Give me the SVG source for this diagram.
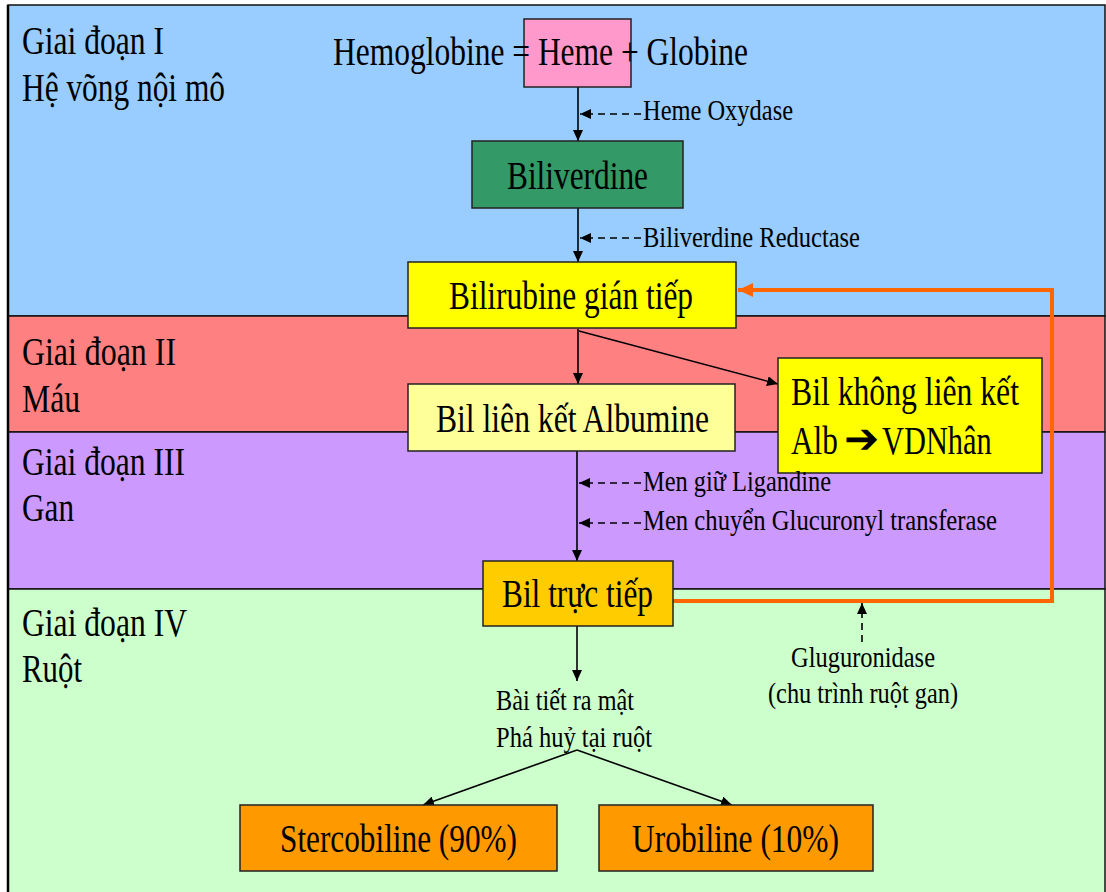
<svg xmlns="http://www.w3.org/2000/svg" width="1106" height="892" viewBox="0 0 1106 892">
<defs>
<style>
text{font-family:"Liberation Serif","Times New Roman",serif;fill:#000}
.big{font-size:40px}
.lab{font-size:39px}
.sm{font-size:30px}
.box{stroke:#222;stroke-width:1.5}
.band{stroke:#111;stroke-width:1.5}
.ln{stroke:#000;stroke-width:1.6;fill:none}
.dash{stroke:#000;stroke-width:1.6;fill:none;stroke-dasharray:7,5}
</style>
<marker id="ah" markerUnits="userSpaceOnUse" markerWidth="12" markerHeight="10" refX="11" refY="5" orient="auto">
<path d="M0,0 L11,5 L0,10 z" fill="#000"/>
</marker>
<marker id="ahO" markerUnits="userSpaceOnUse" markerWidth="16" markerHeight="14" refX="15" refY="7" orient="auto">
<path d="M0,0 L15,7 L0,14 z" fill="#FF6600"/>
</marker>
</defs>
<rect width="1106" height="892" fill="#fff"/>
<g id="bands">
<rect class="band" x="8" y="5" width="1097" height="311" fill="#99CCFF"/>
<rect class="band" x="8" y="316" width="1097" height="116" fill="#FF8080"/>
<rect class="band" x="8" y="432" width="1097" height="157" fill="#CC99FF"/>
<rect class="band" x="8" y="589" width="1097" height="305" fill="#CCFFCC"/>
<line x1="8" y1="5" x2="8" y2="892" stroke="#000" stroke-width="2.5"/>
</g>
<g id="stage-labels">
<text class="lab" x="22" y="54" textLength="142" lengthAdjust="spacingAndGlyphs">Giai đoạn I</text>
<text class="lab" x="22" y="101" textLength="203" lengthAdjust="spacingAndGlyphs">Hệ võng nội mô</text>
<text class="lab" x="22" y="365" textLength="154" lengthAdjust="spacingAndGlyphs">Giai đoạn II</text>
<text class="lab" x="22" y="412" textLength="58" lengthAdjust="spacingAndGlyphs">Máu</text>
<text class="lab" x="22" y="475" textLength="163" lengthAdjust="spacingAndGlyphs">Giai đoạn III</text>
<text class="lab" x="22" y="521" textLength="52" lengthAdjust="spacingAndGlyphs">Gan</text>
<text class="lab" x="22" y="636" textLength="165" lengthAdjust="spacingAndGlyphs">Giai đoạn IV</text>
<text class="lab" x="22" y="682" textLength="60" lengthAdjust="spacingAndGlyphs">Ruột</text>
</g>
<g id="connectors">
<line class="ln" x1="578" y1="87" x2="578" y2="141" marker-end="url(#ah)"/>
<line class="dash" x1="641" y1="114" x2="580" y2="114" marker-end="url(#ah)"/>
<line class="ln" x1="578" y1="208" x2="578" y2="262" marker-end="url(#ah)"/>
<line class="dash" x1="641" y1="238" x2="580" y2="238" marker-end="url(#ah)"/>
<line class="ln" x1="578" y1="329" x2="578" y2="384" marker-end="url(#ah)"/>
<line class="ln" x1="579" y1="331" x2="778" y2="384" marker-end="url(#ah)"/>
<line class="ln" x1="577" y1="451" x2="577" y2="561" marker-end="url(#ah)"/>
<line class="dash" x1="641" y1="483" x2="579" y2="483" marker-end="url(#ah)"/>
<line class="dash" x1="641" y1="523" x2="579" y2="523" marker-end="url(#ah)"/>
<line class="ln" x1="577" y1="626" x2="577" y2="681" marker-end="url(#ah)"/>
<line class="dash" x1="862" y1="642" x2="862" y2="603" marker-end="url(#ah)"/>
<line class="ln" x1="577" y1="750" x2="423" y2="805" marker-end="url(#ah)"/>
<line class="ln" x1="577" y1="750" x2="732" y2="805" marker-end="url(#ah)"/>
<polyline points="673,601 1052,601 1052,290 738,290" fill="none" stroke="#FF6600" stroke-width="4" marker-end="url(#ahO)"/>
</g>
<g id="hemoglobine">
<rect class="box" x="524" y="19" width="107" height="68" fill="#FF99CC"/>
<text class="big" x="333" y="65" textLength="415" lengthAdjust="spacingAndGlyphs">Hemoglobine = Heme + Globine</text>
</g>
<g id="heme-oxydase"><text class="sm" x="643" y="120" textLength="150" lengthAdjust="spacingAndGlyphs">Heme Oxydase</text></g>
<g id="biliverdine">
<rect class="box" x="472" y="141" width="211" height="67" fill="#339966"/>
<text class="big" x="507" y="189" textLength="141" lengthAdjust="spacingAndGlyphs">Biliverdine</text>
</g>
<g id="biliverdine-reductase"><text class="sm" x="643" y="247" textLength="217" lengthAdjust="spacingAndGlyphs">Biliverdine Reductase</text></g>
<g id="bilirubine-gian-tiep">
<rect class="box" x="408" y="262" width="328" height="66" fill="#FFFF00"/>
<text class="big" x="449" y="309" textLength="244" lengthAdjust="spacingAndGlyphs">Bilirubine gián tiếp</text>
</g>
<g id="bil-lien-ket-albumine">
<rect class="box" x="408" y="384" width="327" height="67" fill="#FFFF99"/>
<text class="big" x="436" y="432" textLength="273" lengthAdjust="spacingAndGlyphs">Bil liên kết Albumine</text>
</g>
<g id="bil-khong-lien-ket">
<rect class="box" x="778" y="358" width="264" height="115" fill="#FFFF00"/>
<text class="big" x="791" y="405" textLength="228" lengthAdjust="spacingAndGlyphs">Bil không liên kết</text>
<text class="big" transform="translate(791,454) scale(0.78,1)">Alb</text>
<text transform="translate(844,453)" font-family="DejaVu Sans" font-size="42">➔</text>
<text class="big" transform="translate(882,454) scale(0.76,1)">VDNhân</text>
</g>
<g id="men-giu-ligandine"><text class="sm" x="643" y="491" textLength="188" lengthAdjust="spacingAndGlyphs">Men giữ Ligandine</text></g>
<g id="men-chuyen"><text class="sm" x="643" y="530" textLength="354" lengthAdjust="spacingAndGlyphs">Men chuyển Glucuronyl transferase</text></g>
<g id="bil-truc-tiep">
<rect class="box" x="483" y="561" width="190" height="65" fill="#FFCC00"/>
<text class="big" x="502" y="607" textLength="151" lengthAdjust="spacingAndGlyphs">Bil trực tiếp</text>
</g>
<g id="gluguronidase">
<text class="sm" x="791" y="667" textLength="144" lengthAdjust="spacingAndGlyphs">Gluguronidase</text>
<text class="sm" x="768" y="703" textLength="190" lengthAdjust="spacingAndGlyphs">(chu trình ruột gan)</text>
</g>
<g id="bai-tiet">
<text class="sm" x="496" y="710" textLength="138" lengthAdjust="spacingAndGlyphs">Bài tiết ra mật</text>
<text class="sm" x="496" y="747" textLength="156" lengthAdjust="spacingAndGlyphs">Phá huỷ tại ruột</text>
</g>
<g id="stercobiline">
<rect class="box" x="240" y="805" width="317" height="66" fill="#FF9900"/>
<text class="big" x="280" y="852" textLength="237" lengthAdjust="spacingAndGlyphs">Stercobiline (90%)</text>
</g>
<g id="urobiline">
<rect class="box" x="599" y="805" width="274" height="66" fill="#FF9900"/>
<text class="big" x="632" y="852" textLength="207" lengthAdjust="spacingAndGlyphs">Urobiline (10%)</text>
</g>
</svg>
